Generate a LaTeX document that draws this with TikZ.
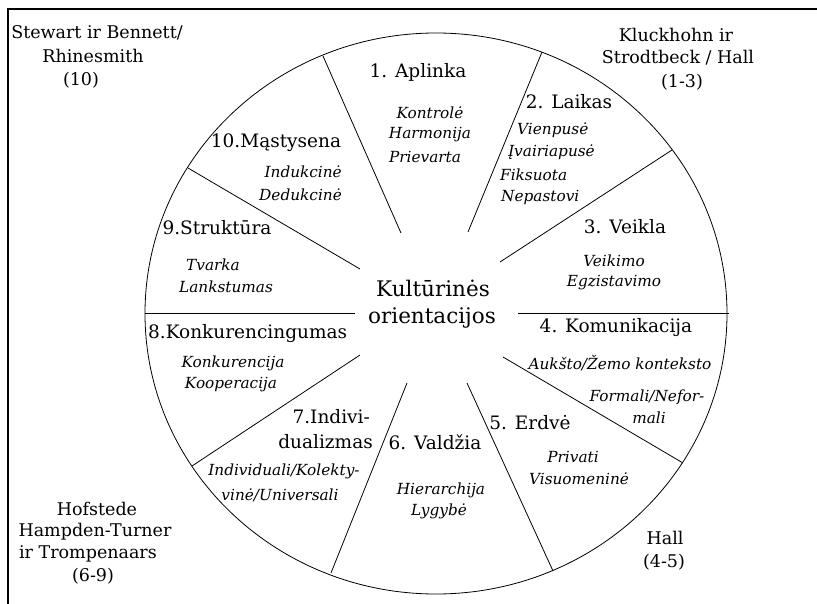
\documentclass[tikz,border=0pt]{standalone}
\usepackage{fontspec}
\setmainfont{DejaVu Serif}
\begin{document}
\begin{tikzpicture}[x=1pt,y=-1pt,
  spoke/.style={draw=black,line width=0.8pt},
  frameline/.style={draw=black,line width=1.3pt},
  title/.style={inner sep=0pt,font=\fontsize{18.5}{25}\selectfont},
  center/.style={inner sep=0pt,font=\fontsize{21.5}{30}\selectfont},
  item/.style={inner sep=0pt,font=\itshape\fontsize{15.3}{22}\selectfont},
  source/.style={inner sep=0pt,font=\fontsize{17.5}{23}\selectfont}]
\useasboundingbox (0,0) rectangle (817,604);
\fill[white] (0,0) rectangle (817,604);
% frame
\draw[frameline] (8,604) -- (8,9) -- (817,9);
% circle
\draw[spoke] (436,313.5) ellipse [x radius=291, y radius=280.5];
% spokes
\draw[spoke] (401,233) -- (323,56);
\draw[spoke] (468,232) -- (542,52);
\draw[spoke] (500,262) -- (672,150);
\draw[spoke] (518,313) -- (729,313);
\draw[spoke] (503,357) -- (683,463);
\draw[spoke] (467,383) -- (553,571);
\draw[spoke] (407,383) -- (331,573);
\draw[spoke] (360,355) -- (192,466);
\draw[spoke] (355,313) -- (145,313);
\draw[spoke] (360,269) -- (188,168);
% centre
\node[center] (c1) at (433,288) {Kultūrinės};
\node[center] (c2) at (432,318) {orientacijos};
% 1
\node[title] (t1) at (418,72) {1. Aplinka};
\node[item] (i1a) at (430,113) {Kontrolė};
\node[item] (i1b) at (430,135) {Harmonija};
\node[item] (i1c) at (425,157) {Prievarta};
% 2
\node[title] (t2) at (569,102) {2. Laikas};
\node[item,anchor=west] (i2a) at (517,130) {Vienpusė};
\node[item,anchor=west] (i2b) at (508,152) {Įvairiapusė};
\node[item,anchor=west] (i2c) at (500,175) {Fiksuota};
\node[item,anchor=west] (i2d) at (501,197) {Nepastovi};
% 3
\node[title] (t3) at (625,227) {3. Veikla};
\node[item] (i3a) at (614,261) {Veikimo};
\node[item] (i3b) at (614,283) {Egzistavimo};
% 4
\node[title] (t4) at (616,328) {4. Komunikacija};
\node[item] (i4a) at (620,363) {Aukšto/Žemo konteksto};
\node[item] (i4b) at (647,397) {Formali/Nefor-};
\node[item] (i4c) at (649,418) {mali};
% 5
\node[title] (t5) at (530,423) {5. Erdvė};
\node[item] (i5a) at (573,457) {Privati};
\node[item] (i5b) at (579,479) {Visuomeninė};
% 6
\node[title] (t6) at (435,442) {6. Valdžia};
\node[item] (i6a) at (441,490) {Hierarchija};
\node[item] (i6b) at (439,511) {Lygybė};
% 7
\node[title,anchor=east] (t7a) at (370,417) {7.Indivi-};
\node[title,anchor=east] (t7b) at (373,442) {dualizmas};
\node[item] (i7a) at (284,471) {Individuali/Kolekty-};
\node[item] (i7b) at (280,495) {vinė/Universali};
% 8
\node[title,anchor=west] (t8) at (148,334) {8.Konkurencingumas};
\node[item] (i8a) at (233,363) {Konkurencija};
\node[item] (i8b) at (231,385) {Kooperacija};
% 9
\node[title] (t9) at (217,228) {9.Struktūra};
\node[item] (i9a) at (213,265) {Tvarka};
\node[item] (i9b) at (226,287) {Lankstumas};
% 10
\node[title] (t10) at (276,143) {10.Mąstysena};
\node[item,anchor=east] (i10a) at (342,172) {Indukcinė};
\node[item,anchor=east] (i10b) at (342,195) {Dedukcinė};
% sources
\node[source] (s1a) at (97,33) {Stewart ir Bennett/};
\node[source] (s1b) at (93,56) {Rhinesmith};
\node[source] (s1c) at (81,80) {(10)};
\node[source] (s2a) at (676,35) {Kluckhohn ir};
\node[source] (s2b) at (678,58) {Strodtbeck / Hall};
\node[source] (s2c) at (682,82) {(1-3)};
\node[source] (s3a) at (97,509) {Hofstede};
\node[source] (s3b) at (95,532) {Hampden-Turner};
\node[source] (s3c) at (88,554) {ir Trompenaars};
\node[source] (s3d) at (93,576) {(6-9)};
\node[source] (s4a) at (665,538) {Hall};
\node[source] (s4b) at (664,562) {(4-5)};
\end{tikzpicture}
\end{document}
